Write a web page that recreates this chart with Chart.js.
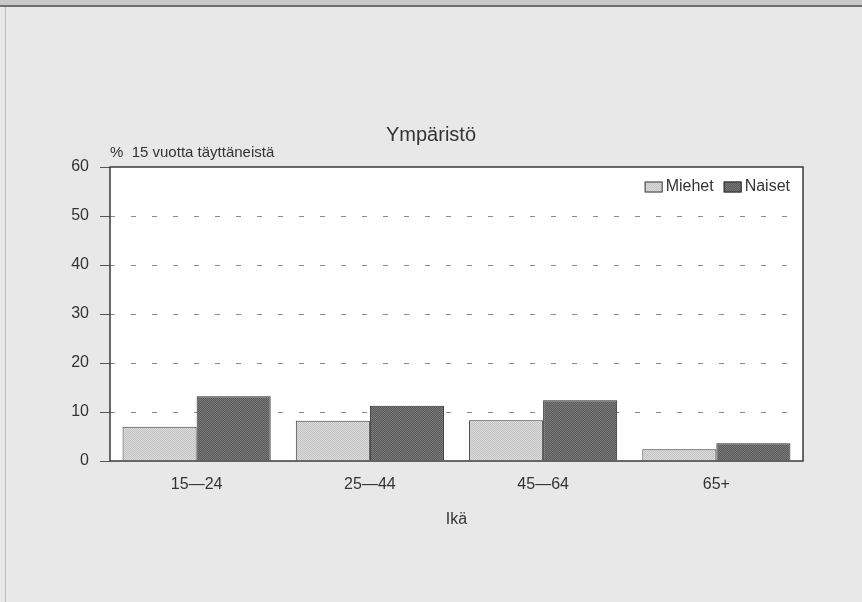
<!DOCTYPE html>
<html>
<head>
<meta charset="utf-8">
<script src="https://cdn.jsdelivr.net/npm/chart.js@4"></script>
<style>
  html, body { margin: 0; padding: 0; background: #e8e8e8; }
  canvas { display: block; }
</style>
</head>
<body>
<canvas id="chart" width="862" height="602"></canvas>
<script>
const categories = ['15\u201424', '25\u201444', '45\u201464', '65+'];
const miehet = [7.0, 8.2, 8.3, 2.4];
const naiset = [13.2, 11.3, 12.4, 3.6];
const yTicks = [0, 10, 20, 30, 40, 50, 60];

const FONT = '"Liberation Sans", Arial, sans-serif';
const TEXT = '#333';

// small halftone-like patterns for the bar fills
function halftone(a, b) {
    const c = document.createElement('canvas');
    c.width = 2;
    c.height = 2;
    const g = c.getContext('2d');
    g.fillStyle = a;
    g.fillRect(0, 0, 2, 2);
    g.fillStyle = b;
    g.fillRect(0, 0, 1, 1);
    g.fillRect(1, 1, 1, 1);
    return g.createPattern(c, 'repeat');
}

const ctx = document.getElementById('chart');

new Chart(ctx, {
    type: 'bar',
    data: {
        labels: categories,
        datasets: [
            {
                label: 'Miehet',
                data: miehet,
                backgroundColor: halftone('#dcdcdc', '#c2c2c2'),
                borderColor: '#3a3a3a',
                borderWidth: 1
            },
            {
                label: 'Naiset',
                data: naiset,
                backgroundColor: halftone('#5a5a5a', '#7a7a7a'),
                borderColor: '#2a2a2a',
                borderWidth: 1
            }
        ]
    },
    options: {
        responsive: false,
        animation: false,
        // equal side padding keeps the title centred on the page
        layout: { padding: { left: 59, right: 59, top: 0, bottom: 0 } },
        categoryPercentage: 0.855,
        barPercentage: 1.0,
        plugins: {
            title: {
                display: true,
                text: 'Ympäristö',
                color: TEXT,
                font: { family: FONT, size: 20, weight: 'normal' },
                padding: { top: 123, bottom: 20 }
            },
            legend: { display: false },
            tooltip: { enabled: false }
        },
        scales: {
            x: {
                grid: { display: false, drawTicks: false },
                border: { display: false },
                ticks: {
                    color: TEXT,
                    font: { family: FONT, size: 16 },
                    padding: 14
                },
                title: {
                    display: true,
                    text: 'Ikä',
                    color: TEXT,
                    font: { family: FONT, size: 16 },
                    padding: { top: 0, bottom: 73 }
                },
                afterFit: scale => { scale.height = 141; }
            },
            y: {
                min: 0,
                max: 60,
                afterBuildTicks: scale => {
                    scale.ticks = yTicks.map(v => ({ value: v }));
                },
                ticks: {
                    color: TEXT,
                    font: { family: FONT, size: 16 },
                    padding: 11
                },
                grid: {
                    color: c => (c.tick.value === 0 || c.tick.value === 60) ? 'rgba(0,0,0,0)' : '#8a8a8a',
                    tickColor: '#555',
                    tickLength: 10,
                    tickBorderDash: [],
                    lineWidth: 1
                },
                border: { display: false, dash: [5, 16] },
                afterFit: scale => { scale.width = 51; }
            }
        }
    },
    plugins: [{
        id: 'decor',
        beforeDraw: chart => {
            const c = chart.ctx;
            const a = chart.chartArea;
            c.save();
            c.fillStyle = '#e8e8e8';
            c.fillRect(0, 0, chart.width, chart.height);
            // top band and left edge of the scanned page
            c.fillStyle = '#c9c9c9';
            c.fillRect(0, 0, chart.width, 5);
            c.fillStyle = '#707070';
            c.fillRect(0, 5, chart.width, 2);
            c.fillStyle = '#bdbdbd';
            c.fillRect(5, 7, 1, chart.height - 7);
            c.fillStyle = '#ffffff';
            c.fillRect(a.left, a.top, a.right - a.left, a.bottom - a.top);
            c.restore();
        },
        afterDatasetsDraw: chart => {
            const c = chart.ctx;
            const a = chart.chartArea;
            c.save();
            c.strokeStyle = '#3a3a3a';
            c.lineWidth = 1.5;
            c.strokeRect(a.left, a.top, a.right - a.left, a.bottom - a.top);

            c.fillStyle = TEXT;
            c.font = '15px ' + FONT;
            c.textAlign = 'left';
            c.textBaseline = 'alphabetic';
            c.fillText('%  15 vuotta täyttäneistä', a.left, a.top - 10);

            // legend, one row in the top right corner of the plot
            c.font = '16px ' + FONT;
            c.textBaseline = 'middle';
            const items = chart.data.datasets;
            const boxW = 18, boxH = 11, gap = 3, itemGap = 10;
            const widths = items.map(d => boxW + gap + c.measureText(d.label).width);
            const total = widths.reduce((s, w) => s + w, 0) + itemGap * (items.length - 1);
            let x = a.right - 13 - total;
            const yMid = a.top + 20;
            items.forEach((d, i) => {
                c.fillStyle = d.backgroundColor;
                c.fillRect(x, yMid - boxH / 2, boxW, boxH);
                c.strokeStyle = d.borderColor;
                c.lineWidth = 1;
                c.strokeRect(x + 0.5, yMid - boxH / 2 + 0.5, boxW - 1, boxH - 1);
                c.fillStyle = TEXT;
                c.fillText(d.label, x + boxW + gap, yMid);
                x += widths[i] + itemGap;
            });
            c.restore();
        }
    }]
});
</script>
</body>
</html>
